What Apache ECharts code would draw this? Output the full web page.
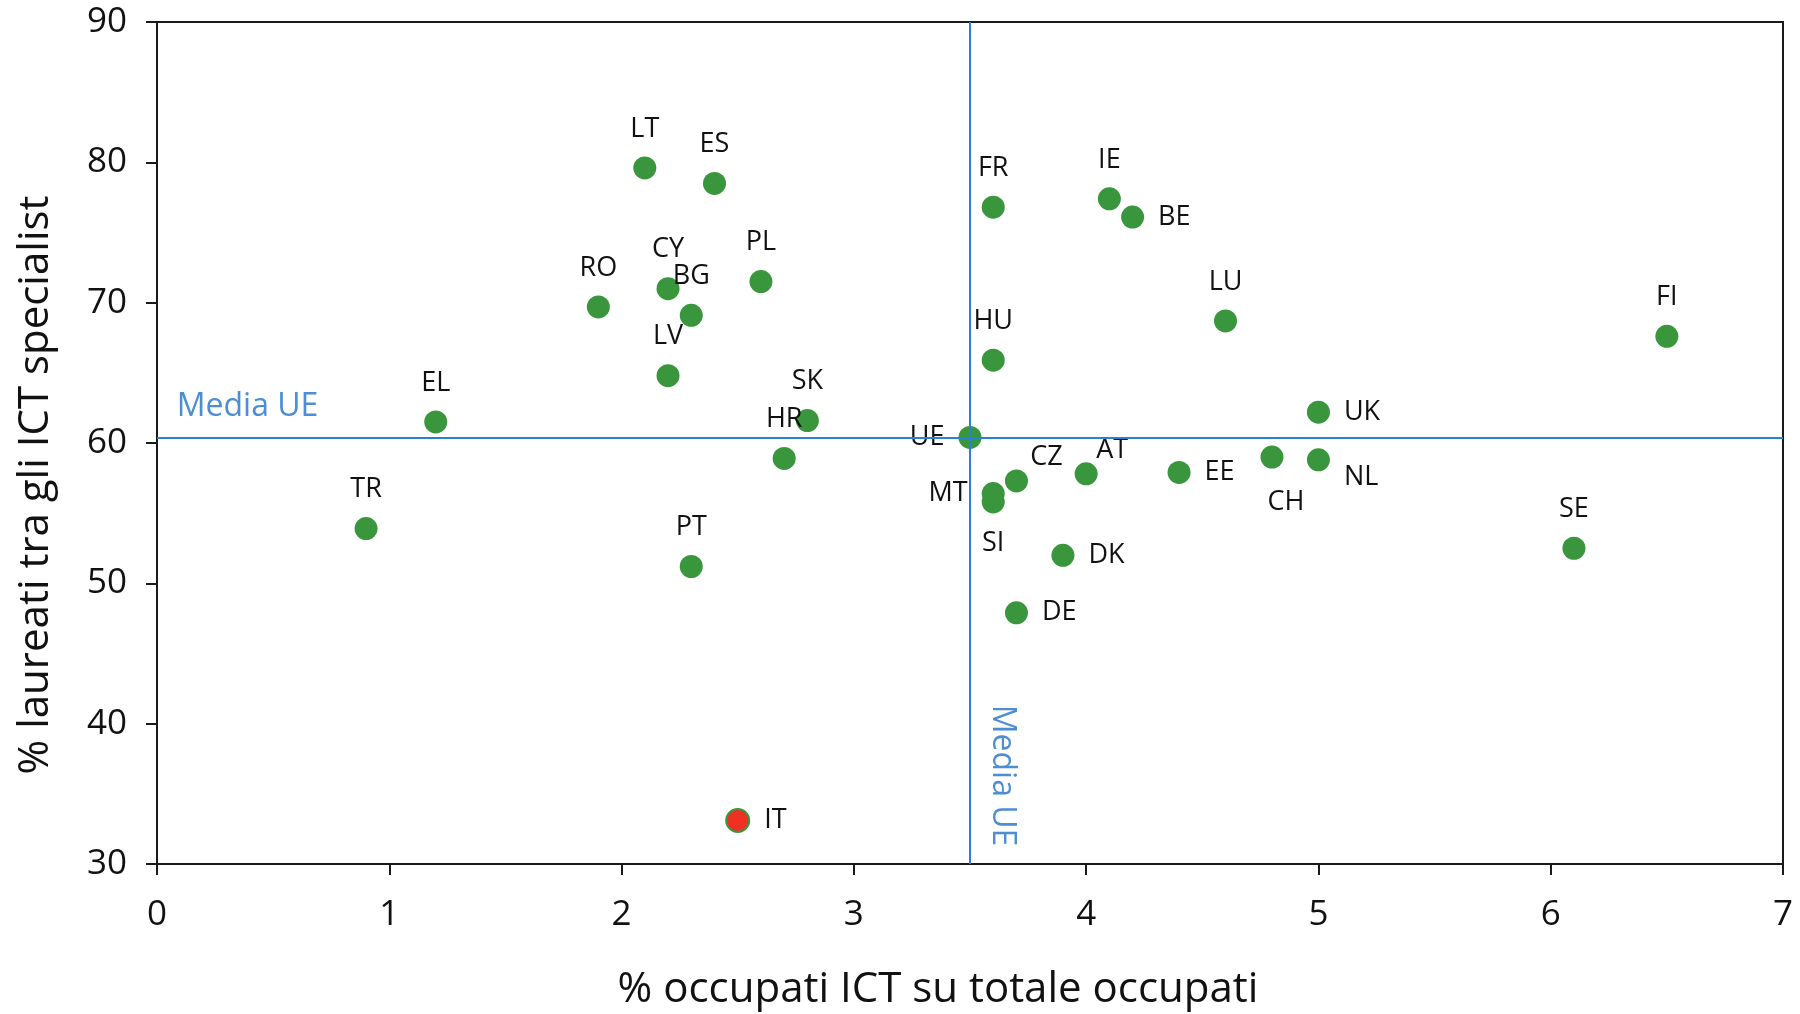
<!DOCTYPE html>
<html>
<head>
<meta charset="utf-8">
<title>Occupati ICT e laureati</title>
<script src="https://cdn.jsdelivr.net/npm/echarts@6/dist/echarts.min.js"></script>
<style>
  html, body { margin: 0; padding: 0; background: #fff; }
  #chart { width: 1800px; height: 1014px; }
</style>
</head>
<body>
<div id="chart"></div>
<script>
  // paesi e valori (x: % occupati ICT, y: % laureati tra gli specialisti ICT)
  var countries = ['LT', 'ES', 'RO', 'CY', 'BG', 'PL', 'LV', 'EL', 'SK', 'HR', 'TR', 'PT', 'IT',
    'UE', 'FR', 'HU', 'IE', 'BE', 'LU', 'FI', 'UK', 'CZ', 'AT', 'EE', 'CH', 'NL', 'MT', 'SI', 'DK', 'DE', 'SE'];
  var occupatiICT = [2.1, 2.4, 1.9, 2.2, 2.3, 2.6, 2.2, 1.2, 2.8, 2.7, 0.9, 2.3, 2.5,
    3.5, 3.6, 3.6, 4.1, 4.2, 4.6, 6.5, 5.0, 3.7, 4.0, 4.4, 4.8, 5.0, 3.6, 3.6, 3.9, 3.7, 6.1];
  var laureati = [79.6, 78.5, 69.7, 71.0, 69.1, 71.5, 64.8, 61.5, 61.6, 58.9, 53.9, 51.2, 33.1,
    60.4, 76.8, 65.9, 77.4, 76.1, 68.7, 67.6, 62.2, 57.3, 57.8, 57.9, 59.0, 58.8, 56.4, 55.8, 52.0, 47.9, 52.5];
  // posizione dell'etichetta per ogni paese
  var labelPos = ['top', 'top', 'top', 'top', 'top', 'top', 'top', 'top', 'top', 'top', 'top', 'top', 'right',
    'left', 'top', 'top', 'top', 'right', 'top', 'top', 'right', 'top', 'top', 'right', 'bottom', 'right', 'left', 'bottom', 'right', 'right', 'top'];
  // spostamenti particolari (paese -> [dx, dy])
  var labelShift = {CZ: [30, 15], AT: [26, 15], CH: [14, 6], NL: [0, 17], SI: [0, 2]};

  // medie UE
  var mediaX = 3.5;
  var mediaY = 60.4;
  var xTicks = [0, 7, 1];
  var yTicks = [30, 90, 10];

  var green = '#3a963c';
  var blue = '#2a80d2';

  function buildData() {
    var out = [];
    for (var i = 0; i < countries.length; i++) {
      var label = {position: labelPos[i]};
      if (labelShift[countries[i]]) {
        label.offset = labelShift[countries[i]];
      }
      var item = {name: countries[i], value: [occupatiICT[i], laureati[i]], label: label};
      if (countries[i] === 'IT') {
        item.itemStyle = {color: '#ee3124', borderColor: green, borderWidth: 2};
      }
      out.push(item);
    }
    return out;
  }

  var chart = echarts.init(document.getElementById('chart'));
  var option = {
    backgroundColor: '#fff',
    animation: false,
    grid: {
      left: 157,
      right: 17,
      top: 22,
      bottom: 150,
      outerBoundsMode: 'none',
      show: true,
      borderColor: '#1a1a1a',
      borderWidth: 2,
    },
    xAxis: {
      type: 'value',
      min: xTicks[0],
      max: xTicks[1],
      interval: xTicks[2],
      name: '% occupati ICT su totale occupati',
      nameLocation: 'middle',
      nameGap: 104,
      nameTextStyle: {fontFamily: 'Open Sans', fontSize: 42, lineHeight: 44, color: '#111', padding: [0, 64, 0, 0]},
      axisLine: {lineStyle: {color: '#1a1a1a', width: 2}},
      axisTick: {show: true, length: 11, lineStyle: {color: '#1a1a1a', width: 2}},
      axisLabel: {fontFamily: 'Open Sans', fontSize: 35, color: '#111', margin: 34},
      splitLine: {show: false},
    },
    yAxis: {
      type: 'value',
      min: yTicks[0],
      max: yTicks[1],
      interval: yTicks[2],
      name: '% laureati tra gli ICT specialist',
      nameLocation: 'middle',
      nameGap: 100,
      nameTextStyle: {fontFamily: 'Open Sans', fontSize: 42, color: '#111', padding: [0, 84, 0, 0]},
      axisLine: {lineStyle: {color: '#1a1a1a', width: 2}},
      axisTick: {show: true, length: 11, lineStyle: {color: '#1a1a1a', width: 2}},
      axisLabel: {fontFamily: 'Open Sans', fontSize: 35, color: '#111', margin: 30},
      splitLine: {show: false},
    },
    series: [
      {
        type: 'scatter',
        symbolSize: 23,
        data: buildData(),
        itemStyle: {color: green, opacity: 1},
        label: {
          show: true,
          formatter: '{b}',
          fontFamily: 'Open Sans',
          fontSize: 27,
          color: '#111',
          distance: 14,
        },
        markLine: {
          silent: true,
          symbol: 'none',
          label: {show: false},
          lineStyle: {color: blue, width: 2, type: 'solid'},
          data: [
            {xAxis: mediaX},
            {yAxis: mediaY}
          ],
        },
        z: 3,
      },
      {
        // scritte "Media UE"
        type: 'scatter',
        symbolSize: 0,
        silent: true,
        data: [
          {value: [0.39, 62.6], label: {rotate: 0}},
          {value: [3.64, 36.3], label: {rotate: -90}}
        ],
        label: {
          show: true,
          position: 'inside',
          formatter: 'Media UE',
          fontFamily: 'Open Sans',
          fontSize: 32,
          color: '#1f70c8',
        },
        z: 2,
      }
    ]
  };
  chart.setOption(option);
</script>
</body>
</html>
